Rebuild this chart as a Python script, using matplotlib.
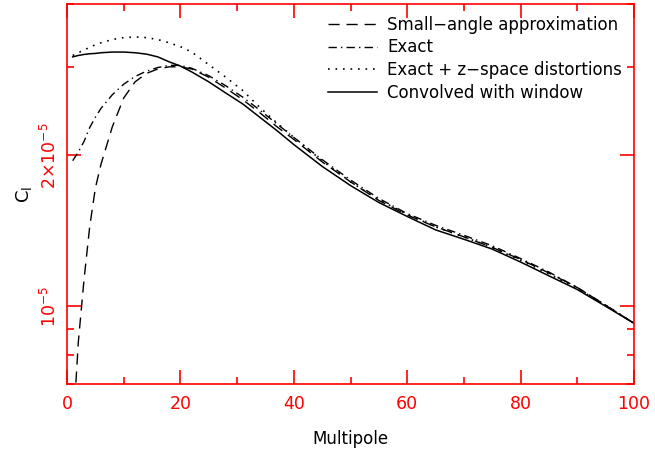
import matplotlib
matplotlib.use("Agg")
import matplotlib.pyplot as plt
from matplotlib.ticker import FixedLocator, NullFormatter, FixedFormatter

# multipole grid shared by all four curves
multipole = [1, 2, 3, 4, 5, 6, 8, 10, 12, 14, 16, 18, 20, 22, 25, 28, 31, 34,
             37, 40, 45, 50, 55, 60, 65, 70, 75, 80, 85, 90, 95, 100]

# C_l in units of 1e-5
small_angle = [0.55, 0.85, 1.13, 1.44, 1.72, 1.92, 2.28, 2.60, 2.80, 2.91, 2.97,
               3.00, 3.00, 2.97, 2.86, 2.72, 2.58, 2.43, 2.28, 2.15, 1.94, 1.77,
               1.625, 1.52, 1.44, 1.375, 1.31, 1.24, 1.165, 1.09, 1.005, 0.925]
exact = [1.95, 2.03, 2.13, 2.27, 2.38, 2.48, 2.64, 2.77, 2.87, 2.94, 2.99,
         3.02, 3.02, 2.98, 2.88, 2.75, 2.61, 2.46, 2.31, 2.17, 1.96, 1.785,
         1.64, 1.53, 1.45, 1.385, 1.32, 1.245, 1.17, 1.09, 1.005, 0.925]
zspace = [3.16, 3.20, 3.24, 3.28, 3.32, 3.35, 3.40, 3.43, 3.44, 3.43, 3.40,
          3.35, 3.29, 3.21, 3.03, 2.86, 2.69, 2.49, 2.32, 2.17, 1.95, 1.77,
          1.63, 1.525, 1.44, 1.375, 1.31, 1.235, 1.16, 1.085, 1.005, 0.925]
convolved = [3.14, 3.16, 3.175, 3.185, 3.19, 3.20, 3.21, 3.21, 3.20, 3.18, 3.14,
             3.07, 3.01, 2.93, 2.80, 2.66, 2.53, 2.38, 2.24, 2.10, 1.90, 1.74,
             1.61, 1.51, 1.42, 1.36, 1.30, 1.225, 1.15, 1.08, 1.00, 0.925]

labels = ["Small\u2212angle approximation", "Exact",
          "Exact + z\u2212space distortions", "Convolved with window"]

RED = "#ff0000"

fig = plt.figure(figsize=(6.55, 4.54), dpi=100)
ax = fig.add_axes([0.1023, 0.154, 0.8657, 0.837])

scale = 1e-5
curves = [
    (small_angle, dict(dashes=(8, 5), lw=1.0)),
    (exact, dict(dashes=(6, 3, 1, 3), lw=1.0)),
    (zspace, dict(dashes=(1, 3.5), lw=1.2)),
    (convolved, dict(linestyle="-", lw=1.1)),
]
for (vals, style), lab in zip(curves, labels):
    ax.plot(multipole, [v * scale for v in vals], color="black",
            label=lab, **style)

ax.set_yscale("log")
ax.set_xlim(0, 100)
ax.set_ylim(7e-6, 4e-5)

ax.yaxis.set_major_locator(FixedLocator([1e-5, 2e-5]))
ax.yaxis.set_major_formatter(FixedFormatter([r"10$^{-5}$", r"2$\times$10$^{-5}$"]))
ax.yaxis.set_minor_locator(FixedLocator([7e-6, 8e-6, 9e-6, 3e-5, 4e-5]))
ax.yaxis.set_minor_formatter(NullFormatter())
ax.set_xticks([0, 20, 40, 60, 80, 100])
ax.set_xticks([10, 30, 50, 70, 90], minor=True)

for s in ax.spines.values():
    s.set_color(RED)
    s.set_linewidth(1.2)
ax.tick_params(which="both", direction="in", top=True, right=True,
               color=RED, labelcolor=RED, width=1.2)
ax.tick_params(which="major", length=10, labelsize=12.5)
ax.tick_params(which="minor", length=5)
ax.tick_params(axis="x", pad=8)
ax.tick_params(axis="y", pad=5)
for t in ax.get_yticklabels():
    t.set_rotation(90)
    t.set_va("center")

ax.set_xlabel("Multipole", fontsize=12, labelpad=12)
ax.set_ylabel(r"C$_{\rm l}$", fontsize=13, labelpad=4)

ax.legend(loc="upper right", frameon=False, fontsize=12, handlelength=2.9,
          handletextpad=0.65, labelspacing=0.28, borderaxespad=0.3)

fig.savefig("out.png", dpi=100)
